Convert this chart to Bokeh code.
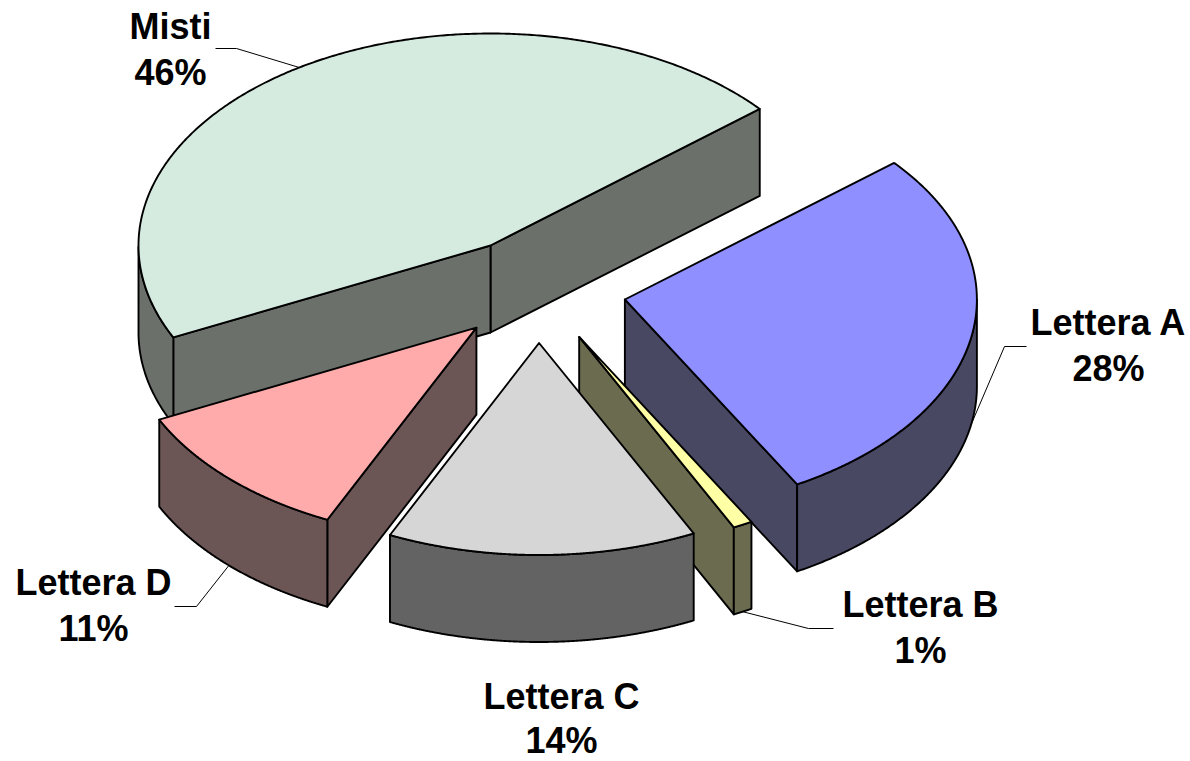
import numpy as np
from bokeh.plotting import figure
from bokeh.models import Range1d
from bokeh.core.properties import value
from bokeh.embed import file_html
from bokeh.resources import INLINE

# --- chart data ---
labels = ["Misti", "Lettera D", "Lettera C", "Lettera B", "Lettera A"]
shares = [46.0, 10.9, 14.2, 0.9, 28.0]
top_colors = ["#D6EBE0", "#FFABAB", "#D6D6D6", "#FFFFA6", "#8F8FFF"]
side_colors = ["#6B706A", "#6B5655", "#636363", "#6B6B50", "#484863"]

# --- 3-D pie layout (page pixels) ---
CX, CY = 537.8, 289.5
RX, RY = 352.0, 212.0
DEPTH = 87.0
EXPLODE = 0.25
START_DEG = 40.1
draw_order = ["Misti", "Lettera A", "Lettera B", "Lettera D", "Lettera C"]
label_pos = {
    "Misti": (170, 26, 72),
    "Lettera A": (1108, 322, 368),
    "Lettera B": (920, 604, 650),
    "Lettera C": (561, 696, 740),
    "Lettera D": (93, 582, 628),
}
leader_elbows = {
    "Misti": [(215, 48), (236, 48)],
    "Lettera A": [(1026, 346), (1004, 346)],
    "Lettera B": [(833, 628), (808, 628)],
    "Lettera D": [(174, 606), (196, 606)],
}

p = figure(width=1190, height=761, output_backend="svg", toolbar_location=None,
           x_range=Range1d(0, 1190), y_range=Range1d(761, 0),
           min_border=0, outline_line_color=None, background_fill_color="white")
p.axis.visible = False
p.grid.visible = False

# wedge angles from the shares
total = sum(shares)
ang = START_DEG
geom = {}
for name, s, tc, sc in zip(labels, shares, top_colors, side_colors):
    sweep = 360.0 * s / total
    geom[name] = dict(a0=ang, a1=ang + sweep, top=tc, side=sc)
    ang += sweep


def rim(ax, ay, deg):
    t = np.radians(deg)
    return ax + RX * np.cos(t), ay - RY * np.sin(t)


LW = 1.9
leaders = []
for name in draw_order:
    g = geom[name]
    a0, a1 = g["a0"], g["a1"]
    mid = (a0 + a1) / 2
    ax, ay = rim(CX, CY, mid)
    ax, ay = CX + EXPLODE * (ax - CX), CY + EXPLODE * (ay - CY)

    # radial cut faces, painted when they face the viewer
    for edge, normal in ((a0, a0 - 90), (a1, a1 + 90)):
        if np.sin(np.radians(normal)) < 0:
            ex, ey = rim(ax, ay, edge)
            p.patch([ax, ex, ex, ax], [ay, ey, ey + DEPTH, ay + DEPTH],
                    fill_color=g["side"], line_color="black", line_width=LW,
                    line_join="round")

    # outer wall: the part of the rim on the near side
    ts = np.linspace(a0, a1, 400)
    near = ts[np.sin(np.radians(ts)) <= 0]
    if near.size:
        xs, ys = rim(ax, ay, near)
        p.patch(np.r_[xs, xs[::-1]], np.r_[ys, ys[::-1] + DEPTH],
                fill_color=g["side"], line_color="black", line_width=LW,
                line_join="round")

    # top face
    xs, ys = rim(ax, ay, ts)
    p.patch(np.r_[ax, xs], np.r_[ay, ys], fill_color=g["top"],
            line_color="black", line_width=LW, line_join="round")

    # leader anchor on the visible rim at the slice's mid angle
    if name in leader_elbows:
        lx, ly = rim(ax, ay, mid)
        if np.sin(np.radians(mid)) < 0:
            ly += DEPTH
        pts = leader_elbows[name] + [(lx, ly)]
        leaders.append(pts)

for pts in leaders:
    p.line([q[0] for q in pts], [q[1] for q in pts], line_color="black", line_width=1)

for name, s in zip(labels, shares):
    x, y1, y2 = label_pos[name]
    p.text([x, x], [y1, y2], text=[name, f"{round(s)}%"], text_font=value("Liberation Sans"),
           text_font_style="bold", text_font_size="36px", text_color="black",
           text_align="center", text_baseline="middle")

open("out.html", "w").write(file_html(p, INLINE))
